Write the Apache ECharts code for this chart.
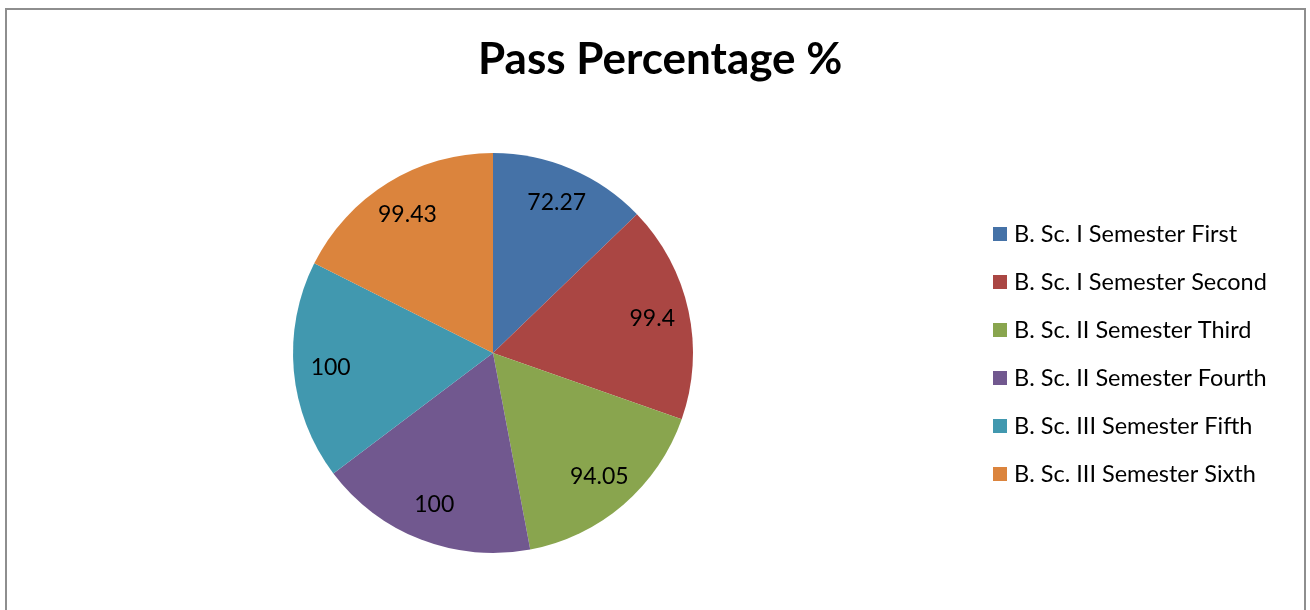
<!DOCTYPE html>
<html>
<head>
<meta charset="utf-8">
<script src="https://cdn.jsdelivr.net/npm/echarts@6/dist/echarts.min.js"></script>
<style>
html,body{margin:0;padding:0;width:1310px;height:610px;overflow:hidden;background:#fff;}
#frame{position:absolute;left:5px;top:8px;width:1301px;height:640px;border:2px solid #8e8e8e;box-sizing:border-box;}
#chart{position:absolute;left:0;top:0;width:1310px;height:610px;}
</style>
</head>
<body>
<div id="frame"></div>
<div id="chart"></div>
<script>
const titleText = 'Pass Percentage %';
const categories = ['B. Sc. I Semester First','B. Sc. I Semester Second','B. Sc. II Semester Third','B. Sc. II Semester Fourth','B. Sc. III Semester Fifth','B. Sc. III Semester Sixth'];
const values = [72.27, 99.4, 94.05, 100, 100, 99.43];
const colors = ['#4572A7','#AA4643','#89A54E','#71588F','#4198AF','#DB843D'];

const data = categories.map((c,i)=>({name:c, value:values[i]}));
const chart = echarts.init(document.getElementById('chart'));
const font = 'Lato, "Open Sans", sans-serif';
chart.setOption({
  animation:false,
  color: colors,
  title:{text:titleText, left:473, top:33, textStyle:{fontFamily:font, fontSize:44, fontWeight:'bold', color:'#000'}},
  legend:{orient:'vertical', left:988, top:217, itemWidth:14, itemHeight:14, itemGap:24, icon:'rect',
    textStyle:{fontFamily:font, fontSize:23.5, lineHeight:24, color:'#000', padding:[0,0,0,2]}, data:categories},
  series:[
    {type:'pie', center:[493,353], radius:[0,200], startAngle:90, clockwise:true, data:data,
     label:{show:false}, labelLine:{show:false}, itemStyle:{borderWidth:0}, silent:true},
    {type:'pie', center:[493,353], radius:[115,205], startAngle:90, clockwise:true, data:data,
     itemStyle:{color:'rgba(0,0,0,0)', borderWidth:0}, silent:true, legendHoverLink:false,
     label:{show:true, position:'inside', formatter:p=>String(values[p.dataIndex]), fontFamily:font, fontSize:23, color:'#000'},
     labelLine:{show:false}}
  ]
});
</script>
</body>
</html>
